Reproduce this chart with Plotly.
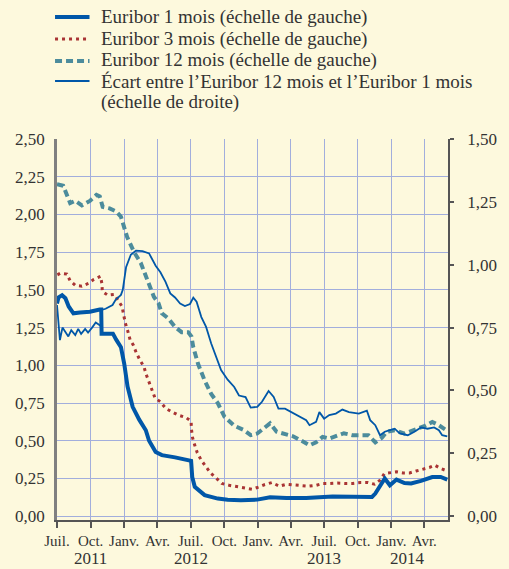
import plotly.graph_objects as go

# ---------------- data ----------------
dates_1m = ["2011-07-01","2011-07-05","2011-07-15","2011-07-24","2011-08-02","2011-08-15","2011-09-02",
            "2011-09-29","2011-10-26","2011-10-30","2011-10-31","2011-11-13","2011-12-01","2011-12-10",
            "2011-12-23","2012-01-01","2012-01-10","2012-01-24","2012-02-11","2012-02-29","2012-03-09",
            "2012-03-27","2012-04-13","2012-05-19","2012-06-15","2012-07-02","2012-07-05","2012-07-12",
            "2012-08-08","2012-09-13","2012-10-10","2012-11-15","2012-12-30","2013-02-03","2013-03-20",
            "2013-05-13","2013-07-24","2013-09-25","2013-11-09","2013-11-18","2013-12-01","2013-12-14",
            "2013-12-28","2014-01-15","2014-02-06","2014-02-24","2014-03-23","2014-04-23","2014-05-16",
            "2014-06-03"]
euribor_1m = [1.41,1.45,1.465,1.445,1.39,1.345,1.35,
              1.355,1.37,1.37,1.21,1.21,1.21,1.17,
              1.12,1.01,0.86,0.725,0.64,0.57,0.50,
              0.426,0.405,0.39,0.376,0.367,0.26,0.195,
              0.14,0.117,0.11,0.106,0.11,0.125,0.12,
              0.12,0.13,0.127,0.128,0.15,0.205,0.25,
              0.205,0.243,0.22,0.217,0.234,0.26,0.26,
              0.243]

dates_3m = ["2011-07-02","2011-07-10","2011-07-28","2011-08-06","2011-08-20","2011-09-07","2011-09-25",
            "2011-10-10","2011-10-28","2011-11-01","2011-11-02","2011-11-17","2011-12-05","2011-12-19",
            "2011-12-26","2011-12-30","2012-01-04","2012-01-10","2012-01-17","2012-01-26","2012-02-03",
            "2012-02-13","2012-02-24","2012-03-01","2012-03-09","2012-03-17","2012-03-25","2012-04-09",
            "2012-04-24","2012-05-10","2012-05-28","2012-06-17","2012-07-02","2012-07-03","2012-07-06",
            "2012-07-12","2012-07-19","2012-07-30","2012-08-12","2012-08-24","2012-09-08","2012-09-24",
            "2012-10-14","2012-11-06","2012-11-25","2012-12-16","2013-01-05","2013-01-20","2013-02-08",
            "2013-03-01","2013-03-20","2013-04-09","2013-04-30","2013-05-20","2013-06-09","2013-06-27",
            "2013-07-17","2013-08-06","2013-08-29","2013-09-18","2013-10-08","2013-10-29","2013-11-16",
            "2013-12-01","2013-12-13","2013-12-28","2014-01-15","2014-02-02","2014-02-20","2014-03-10",
            "2014-03-28","2014-04-15","2014-04-30","2014-05-16","2014-06-03"]
euribor_3m = [1.60,1.61,1.605,1.56,1.53,1.525,1.543,
              1.57,1.59,1.54,1.49,1.465,1.47,1.42,
              1.39,1.34,1.28,1.233,1.17,1.134,1.083,
              1.035,0.99,0.94,0.887,0.835,0.785,0.758,
              0.714,0.692,0.67,0.655,0.63,0.575,0.52,
              0.47,0.42,0.37,0.33,0.287,0.254,0.217,
              0.205,0.195,0.188,0.179,0.195,0.21,0.223,
              0.199,0.212,0.208,0.20,0.199,0.205,0.217,
              0.217,0.22,0.217,0.217,0.223,0.223,0.212,
              0.239,0.283,0.287,0.294,0.287,0.287,0.30,
              0.31,0.323,0.338,0.316,0.30]

dates_12m = ["2011-07-01","2011-07-18","2011-08-06","2011-08-20","2011-09-07","2011-09-29","2011-10-17",
             "2011-10-26","2011-11-03","2011-11-22","2011-12-10","2011-12-23","2012-01-09","2012-01-28",
             "2012-02-15","2012-03-04","2012-03-22","2012-04-04","2012-04-13","2012-05-01","2012-05-19",
             "2012-06-06","2012-06-24","2012-07-03","2012-07-08","2012-07-21","2012-08-08","2012-08-26",
             "2012-09-13","2012-10-01","2012-10-28","2012-11-24","2012-12-12","2012-12-30","2013-01-17",
             "2013-02-03","2013-02-21","2013-03-16","2013-04-07","2013-04-30","2013-05-22","2013-06-09",
             "2013-06-27","2013-07-15","2013-08-02","2013-08-24","2013-09-16","2013-10-08","2013-10-30",
             "2013-11-18","2013-12-06","2013-12-19","2014-01-10","2014-02-06","2014-03-05","2014-04-01",
             "2014-04-23","2014-05-11","2014-06-03"]
euribor_12m = [2.20,2.19,2.075,2.09,2.06,2.09,2.13,
               2.12,2.05,2.04,2.02,1.985,1.85,1.75,
               1.68,1.565,1.455,1.41,1.345,1.31,1.255,
               1.22,1.22,1.19,1.12,1.01,0.90,0.81,
               0.75,0.66,0.60,0.57,0.537,0.548,0.58,
               0.615,0.56,0.548,0.53,0.50,0.47,0.49,
               0.526,0.515,0.53,0.55,0.537,0.537,0.537,
               0.49,0.52,0.56,0.57,0.548,0.57,0.597,
               0.625,0.603,0.565]

dates_spread = ["2011-07-01","2011-07-05","2011-07-09","2011-07-16","2011-07-24","2011-08-01","2011-08-09",
                "2011-08-20","2011-08-28","2011-09-05","2011-09-16","2011-09-24","2011-10-05","2011-10-15",
                "2011-10-30","2011-10-31","2011-11-11","2011-11-22","2011-11-30","2011-12-08","2011-12-16",
                "2011-12-23","2011-12-28","2012-01-06","2012-01-19","2012-02-02","2012-02-20","2012-03-09",
                "2012-03-27","2012-04-09","2012-04-23","2012-05-06","2012-05-19","2012-06-02","2012-06-15",
                "2012-06-29","2012-07-08","2012-07-17","2012-07-30","2012-08-12","2012-08-26","2012-09-08",
                "2012-09-22","2012-10-10","2012-10-28","2012-11-10","2012-11-28","2012-12-12","2012-12-30",
                "2013-01-12","2013-01-30","2013-02-13","2013-02-26","2013-03-16","2013-04-03","2013-04-25",
                "2013-05-13","2013-05-22","2013-06-09","2013-06-18","2013-07-01","2013-07-15","2013-08-02",
                "2013-08-20","2013-09-07","2013-10-04","2013-10-26","2013-11-04","2013-11-18","2013-12-01",
                "2013-12-14","2013-12-28","2014-01-10","2014-01-24","2014-02-15","2014-03-05","2014-03-23",
                "2014-04-10","2014-04-28","2014-05-11","2014-05-20","2014-06-03"]
spread_12m_1m = [0.84,0.75,0.70,0.75,0.73,0.715,0.74,
                 0.72,0.745,0.725,0.745,0.73,0.75,0.77,
                 0.755,0.82,0.825,0.835,0.84,0.86,0.87,
                 0.88,0.90,0.99,1.04,1.056,1.054,1.045,
                 0.996,0.97,0.932,0.886,0.87,0.846,0.836,
                 0.844,0.869,0.853,0.792,0.753,0.687,0.634,
                 0.581,0.543,0.514,0.48,0.474,0.432,0.435,
                 0.455,0.498,0.474,0.428,0.428,0.414,0.395,
                 0.382,0.362,0.375,0.414,0.388,0.402,0.408,
                 0.424,0.414,0.408,0.42,0.382,0.362,0.322,
                 0.336,0.342,0.348,0.329,0.322,0.336,0.353,
                 0.348,0.353,0.342,0.322,0.318]

month_ticks = ["2011-07-01","2011-10-01","2012-01-01","2012-04-01","2012-07-01","2012-10-01",
               "2013-01-01","2013-04-01","2013-07-01","2013-10-01","2014-01-01","2014-04-01"]
month_labels = ["Juil.","Oct.","Janv.","Avr.","Juil.","Oct.","Janv.","Avr.","Juil.","Oct.","Janv.","Avr."]
year_positions = ["2011-10-01","2012-07-01","2013-07-01","2014-02-14"]
year_labels = ["2011","2012","2013","2014"]

legend_labels = ["Euribor 1 mois (échelle de gauche)",
                 "Euribor 3 mois (échelle de gauche)",
                 "Euribor 12 mois (échelle de gauche)",
                 "Écart entre l’Euribor 12 mois et l’Euribor 1 mois",
                 "(échelle de droite)"]

# ---------------- styles ----------------
BG = "#FDF9DD"
GRID = "#A2AEDC"
TXT = "#333333"
BLUE = "#0057A8"
RED = "#A93434"
TEAL = "#4C8C9C"
FONT = "Liberation Serif"

fig = go.Figure()
fig.add_trace(go.Scatter(x=dates_12m, y=euribor_12m, mode="lines", name=legend_labels[2],
                         line=dict(color=TEAL, width=4, dash="7px,4px"), yaxis="y"))
fig.add_trace(go.Scatter(x=dates_3m, y=euribor_3m, mode="lines", name=legend_labels[1],
                         line=dict(color=RED, width=3, dash="3px,4px"), yaxis="y"))
fig.add_trace(go.Scatter(x=dates_spread, y=spread_12m_1m, mode="lines", name=legend_labels[3],
                         line=dict(color=BLUE, width=1.8), yaxis="y2"))
fig.add_trace(go.Scatter(x=dates_1m, y=euribor_1m, mode="lines", name=legend_labels[0],
                         line=dict(color=BLUE, width=4), yaxis="y"))

# manual legend (to match the compact line spacing of the reference)
H = 381.0
W = 397.0
def px(p):
    return (p - 57) / W
def py(q):
    return (520 - q) / H

samples = [(17, dict(color=BLUE, width=4)),
           (39, dict(color=RED, width=3, dash="3px,4px")),
           (61, dict(color=TEAL, width=4, dash="7px,4px")),
           (81, dict(color=BLUE, width=1.8))]
for yy, ln in samples:
    fig.add_shape(type="line", xref="paper", yref="paper", x0=px(55), x1=px(90),
                  y0=py(yy), y1=py(yy), line=ln)
for yy, txt in zip([17, 38.5, 60, 81, 102], legend_labels):
    fig.add_annotation(text=txt, xref="paper", yref="paper", x=px(100), y=py(yy),
                       xanchor="left", yanchor="middle", showarrow=False,
                       font=dict(family=FONT, size=19, color=TXT))

for xv, lab in zip(year_positions, year_labels):
    fig.add_annotation(text=lab, xref="x", yref="paper", x=xv, y=py(558),
                       xanchor="center", yanchor="middle", showarrow=False,
                       font=dict(family=FONT, size=17, color=TXT))

fig.update_layout(
    width=509, height=569,
    margin=dict(l=57, r=55, t=139, b=49),
    paper_bgcolor=BG, plot_bgcolor=BG,
    showlegend=False,
    separators=", ",
    font=dict(family=FONT, size=17, color=TXT),
    xaxis=dict(type="date", range=["2011-07-01", "2014-06-05"],
               tickvals=month_ticks, ticktext=month_labels,
               tickfont=dict(family=FONT, size=15, color=TXT),
               showgrid=True, gridcolor=GRID, gridwidth=1,
               showline=True, linecolor="#555555", linewidth=1.5,
               ticks="outside", ticklen=6, tickcolor="#555555", tickwidth=1.5,
               ticklabelstandoff=0, zeroline=False),
    yaxis=dict(range=[-0.025, 2.5], tick0=0, dtick=0.25, tickformat=".2f",
               showgrid=True, gridcolor=GRID, gridwidth=1,
               showline=True, linecolor="#808080", linewidth=2.5,
               ticks="", ticklabelstandoff=6, zeroline=False,
               tickfont=dict(family=FONT, size=17, color=TXT)),
    yaxis2=dict(range=[-0.015, 1.5], tick0=0, dtick=0.25, tickformat=".2f",
                overlaying="y", side="right", showgrid=False,
                showline=True, linecolor="#555555", linewidth=1.5,
                ticks="outside", ticklen=4, tickcolor="#555555", tickwidth=1.5,
                ticklabelstandoff=10, zeroline=False,
                tickfont=dict(family=FONT, size=17, color=TXT)),
)

# remove the page's default 8px body margin so the figure fills the window
fig.write_html("out.html",
               config={"displayModeBar": False},
               post_script="document.body.style.margin='0';document.body.style.background='%s';" % BG)
